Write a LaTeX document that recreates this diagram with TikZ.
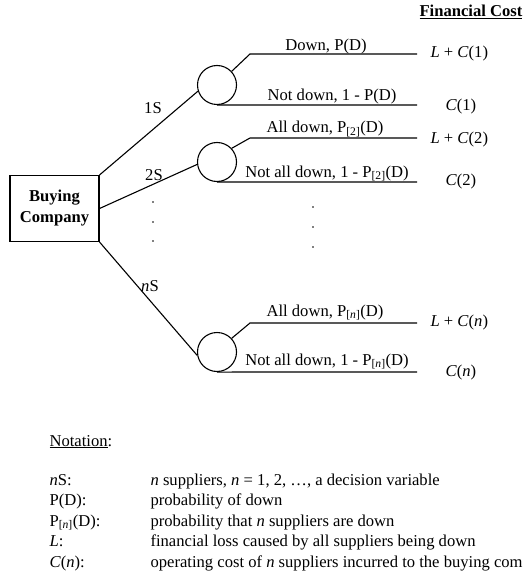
\documentclass[tikz,border=0pt]{standalone}
\usepackage{fontspec}
\setmainfont{Liberation Serif}
\begin{document}
\begin{tikzpicture}[x=1pt,y=-1pt,line width=1.1pt,
  every node/.style={font=\fontsize{16.6}{18}\selectfont,inner sep=0pt},
  decision/.style={draw,rectangle,minimum width=89pt,minimum height=66pt,align=center,
    font=\fontsize{16.6}{21}\selectfont\bfseries},
  chance/.style={draw,circle,minimum size=39pt},
  branchlbl/.style={anchor=base},
  payoff/.style={anchor=west},
  optlbl/.style={anchor=center},
  dotmark/.style={circle,fill,minimum size=1.6pt},
  notekey/.style={anchor=base west},
  noteval/.style={anchor=base west}
]
\useasboundingbox (0,0) rectangle (524,572);
\clip (0,0) rectangle (524,572);

% column heading
\node[anchor=base west,font=\fontsize{16.6}{18}\selectfont\bfseries] (head) at (419,17) {\underline{Financial Cost}};

% decision node and chance nodes
\node[decision] (buyer) at (54.5,208.5) {Buying\\Company};
\node[chance] (c1) at (217,85) {};
\node[chance] (c2) at (217,162) {};
\node[chance] (cn) at (217,352) {};

% alternatives
\draw (buyer.north east) -- (c1.198);
\draw (buyer.east) -- (c2.187);
\draw (buyer.south east) -- (cn.190);
\node[optlbl] (o1) at (153,108) {1S};
\node[optlbl] (o2) at (154,175) {2S};
\node[optlbl] (on) at (150,286) {\textit{n}S};

% end points of the outcome branches
\coordinate (k1a) at (250,54);  \coordinate (e1a) at (417,54);
\coordinate (e1b) at (417,105);
\coordinate (k2a) at (250,138); \coordinate (e2a) at (417,138);
\coordinate (e2b) at (417,182);
\coordinate (kna) at (250,323); \coordinate (ena) at (417,323);
\coordinate (enb) at (417,372);

% outcome branches
\draw (c1.43) -- (k1a) -- (e1a);
\draw (c1.south) -- (e1b);
\draw (c2.43) -- (k2a) -- (e2a);
\draw (c2.south) -- (e2b);
\draw (cn.43) -- (kna) -- (ena);
\draw (cn.south) -- (enb);

% outcome labels
\node[branchlbl] (b1a) at (326,51) {Down, P(D)};
\node[branchlbl] (b1b) at (332,101) {Not down, 1 - P(D)};
\node[branchlbl] (b2a) at (325,133) {All down, P\textsubscript{[2]}(D)};
\node[branchlbl] (b2b) at (327,177) {Not all down, 1 - P\textsubscript{[2]}(D)};
\node[branchlbl] (bna) at (325,316) {All down, P\textsubscript{[\textit{n}]}(D)};
\node[branchlbl] (bnb) at (327,365) {Not all down, 1 - P\textsubscript{[\textit{n}]}(D)};

% costs
\node[payoff] (p1a) at (430,54) {\textit{L} + \textit{C}(1)};
\node[payoff] (p1b) at (445,107) {\textit{C}(1)};
\node[payoff] (p2a) at (430,140) {\textit{L} + \textit{C}(2)};
\node[payoff] (p2b) at (445,182) {\textit{C}(2)};
\node[payoff] (pna) at (430,323) {\textit{L} + \textit{C}(\textit{n})};
\node[payoff] (pnb) at (445,373) {\textit{C}(\textit{n})};

% ellipsis dots
\node[dotmark] (d1) at (153,202) {};
\node[dotmark] (d2) at (153,222) {};
\node[dotmark] (d3) at (153,241) {};
\node[dotmark] (d4) at (313,207) {};
\node[dotmark] (d5) at (313,227) {};
\node[dotmark] (d6) at (313,247) {};

% notation
\node[notekey] (nt) at (49,446) {\underline{Notation}:};
\node[notekey] (k1) at (49,485) {\textit{n}S:};
\node[notekey] (k2) at (49,505) {P(D):};
\node[notekey] (k3) at (49,526) {P\textsubscript{[\textit{n}]}(D):};
\node[notekey] (k4) at (49,546) {\textit{L}:};
\node[notekey] (k5) at (49,567) {\textit{C}(\textit{n}):};
\node[noteval] (v1) at (150,485) {\textit{n} suppliers, \textit{n} = 1, 2, …, a decision variable};
\node[noteval] (v2) at (150,505) {probability of down};
\node[noteval] (v3) at (150,526) {probability that \textit{n} suppliers are down};
\node[noteval] (v4) at (150,546) {financial loss caused by all suppliers being down};
\node[noteval] (v5) at (150,567) {operating cost of \textit{n} suppliers incurred to the buying com};
\end{tikzpicture}
\end{document}
